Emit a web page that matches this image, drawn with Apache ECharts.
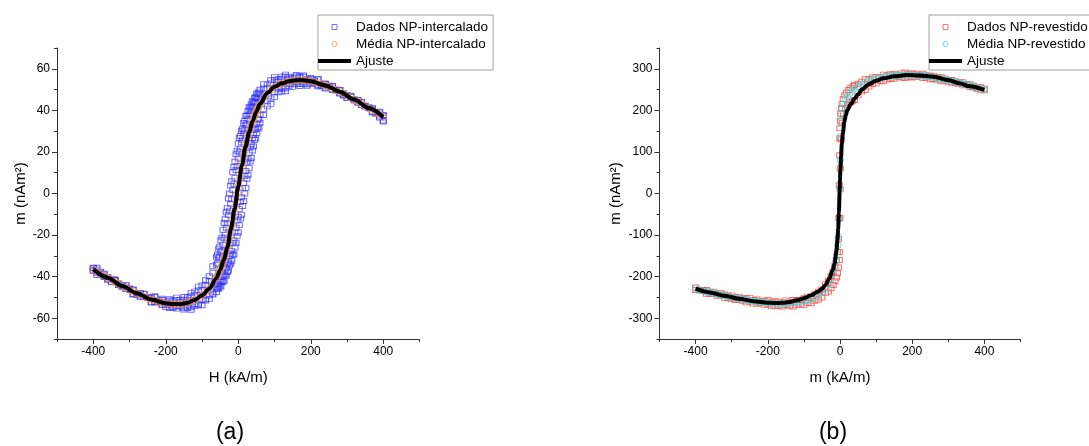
<!DOCTYPE html>
<html>
<head>
<meta charset="utf-8">
<title>Curvas de magnetização</title>
<script src="https://cdn.jsdelivr.net/npm/echarts@6/dist/echarts.min.js"></script>
<style>
  html, body { margin: 0; padding: 0; background: #fff; }
  #chart { width: 1089px; height: 446px; }
</style>
</head>
<body>
<div id="chart"></div>
<script>
// ---------- (a) NP-intercalado ----------
// Campo aplicado H (kA/m), passo fino na região de alta inclinação
const campoA = [
  -400,-390,-380,-370,-360,-350,-340,-330,-320,-310,-300,-290,-280,-270,-260,-250,-240,-230,-220,-210,
  -200,-190,-180,-170,-160,-150,-140,-130,-120,-110,-100,-90,-80,-70,
  -60,-57,-54,-51,-48,-45,-42,-39,-36,-33,-30,-27,-24,-21,-18,-15,-12,-9,-6,-3,
  0,3,6,9,12,15,18,21,24,27,30,33,36,39,42,45,48,51,54,57,60,
  70,80,90,100,110,120,130,140,150,160,170,180,190,200,210,220,230,240,250,260,
  270,280,290,300,310,320,330,340,350,360,370,380,390,400
];
// Varredura 1 – ramo descendente (nAm²)
const descA1 = [
  -36.0,-38.2,-37.6,-39.8,-40.3,-42.5,-41.8,-43.4,-44.9,-44.2,-46.3,-46.4,-48.7,-48.2,-48.4,-50.3,-50.5,-49.8,-51.9,-51.2,
  -52.7,-51.5,-52.4,-51.2,-52.3,-51.1,-51.3,-49.4,-48.9,-46.7,-46.5,-43.9,-42.2,-38.1,
  -34.3,-33.7,-31.1,-30.4,-27.9,-27.4,-24.7,-21.5,-19.8,-16.5,-14.5,-10.3,-8.3,-4.9,-2.8,1.7,4.5,7.4,11.3,13.2,
  16.8,19.9,21.6,24.6,25.9,29.2,30.5,33.0,33.6,35.9,38.0,38.3,39.9,41.5,41.5,43.5,44.1,45.8,45.6,47.1,48.1,
  50.4,50.7,53.0,54.6,53.8,55.0,56.2,55.2,54.7,56.3,55.8,56.2,54.5,55.1,54.1,54.8,52.4,52.7,51.6,51.5,
  49.6,49.7,47.3,47.4,46.7,44.9,45.0,42.5,42.2,41.4,39.3,38.8,37.0,35.1
];
// Varredura 1 – ramo ascendente (nAm²)
const ascA1 = [
  -36.9,-36.7,-38.7,-39.0,-41.4,-41.2,-41.5,-44.1,-44.5,-45.8,-45.7,-48.5,-47.8,-49.6,-49.8,-49.8,-52.4,-52.2,-52.2,-53.4,
  -54.6,-53.5,-55.0,-54.2,-53.8,-55.0,-54.3,-54.7,-53.1,-53.1,-51.3,-51.0,-49.0,-48.1,
  -45.6,-43.8,-43.8,-42.4,-42.5,-40.2,-39.4,-39.0,-36.2,-35.9,-34.0,-33.1,-30.1,-29.0,-27.6,-23.9,-22.6,-18.8,-16.4,-13.0,
  -11.2,-7.5,-4.1,-1.9,2.7,5.1,8.4,10.8,14.9,16.5,19.6,22.5,23.7,26.7,28.1,30.7,31.3,33.4,35.3,35.9,37.7,
  40.6,44.6,45.7,48.7,50.5,50.5,50.6,52.7,52.5,53.8,52.7,53.5,52.5,53.4,53.5,52.1,52.1,50.8,51.8,50.0,
  49.9,48.3,48.2,46.1,46.8,45.3,43.8,43.9,41.9,41.1,40.8,38.8,38.9,37.3
];
// Varredura 2 – ramo descendente (nAm²)
const descA2 = [
  -37.2,-39.2,-38.3,-40.2,-40.3,-42.5,-41.8,-43.3,-44.8,-44.1,-46.2,-46.2,-48.5,-48.0,-48.2,-49.9,-50.1,-49.4,-51.4,-50.6,
  -52.0,-50.8,-51.5,-50.1,-51.2,-49.8,-49.9,-47.8,-47.2,-44.8,-44.3,-41.7,-39.8,-35.0,
  -30.4,-29.5,-26.5,-25.6,-22.5,-21.1,-17.5,-14.2,-12.4,-9.0,-6.9,-2.4,0.0,3.8,5.9,10.2,12.7,15.3,18.9,20.6,
  24.0,26.7,27.7,30.2,31.0,33.9,35.0,37.3,37.6,39.7,41.5,41.4,42.8,44.4,44.2,46.0,46.5,48.1,47.8,49.0,49.9,
  52.6,52.5,54.5,56.0,55.0,56.2,57.2,56.2,55.6,57.0,56.4,56.8,55.0,55.6,54.4,55.1,52.6,52.9,51.8,51.7,
  49.7,49.8,47.3,47.4,46.7,44.9,44.9,42.5,42.1,41.4,39.0,38.4,36.5,34.6
];
// Varredura 2 – ramo ascendente (nAm²)
const ascA2 = [
  -35.7,-35.7,-38.0,-38.6,-41.4,-41.2,-41.5,-44.1,-44.4,-45.8,-45.8,-48.5,-47.9,-49.7,-49.8,-49.9,-52.4,-52.3,-52.4,-53.7,
  -53.5,-55.1,-54.5,-55.4,-54.4,-55.8,-55.1,-55.9,-54.2,-53.8,-53.8,-51.5,-50.8,-48.6,
  -47.4,-45.7,-45.8,-44.6,-44.8,-42.7,-42.3,-42.0,-39.5,-39.5,-37.8,-37.1,-34.5,-33.7,-32.4,-29.6,-29.2,-26.0,-23.7,-20.4,
  -18.8,-15.2,-12.1,-10.3,-6.0,-3.6,0.0,2.7,7.1,9.0,12.2,15.4,17.1,20.7,22.6,25.7,26.6,29.0,31.1,31.9,34.0,
  37.8,41.9,43.1,46.5,48.7,49.0,49.2,51.5,51.3,52.8,51.7,52.6,51.8,52.8,52.9,51.6,51.6,50.5,51.5,49.8,
  49.7,48.1,48.0,46.0,46.7,45.3,43.8,43.9,41.9,41.2,41.0,39.2,39.3,37.8
];
// Média dos ramos (nAm²)
const mediaA = [
  -36.6,-37.4,-38.6,-39.4,-40.6,-41.4,-42.6,-43.4,-44.6,-45.3,-46.4,-47.1,-48.1,-48.7,-49.7,-50.2,-51.1,-51.4,-52.1,-52.3,
  -52.9,-52.9,-53.3,-53.2,-53.3,-52.9,-52.7,-51.9,-51.3,-50.1,-49.1,-47.5,-45.9,-43.4,
  -40.7,-39.4,-38.4,-37.1,-35.9,-34.3,-33.1,-31.3,-29.7,-27.7,-26.1,-23.2,-20.7,-17.8,-15.2,-12.2,-9.5,-6.4,-3.4,0.1,
  3.2,6.6,9.4,12.6,15.2,18.1,20.7,23.4,25.4,27.7,29.4,31.3,32.8,34.6,35.9,37.5,38.6,39.9,40.8,42.1,42.9,
  46.1,48.2,50.1,51.2,52.3,52.9,53.6,53.9,54.4,54.4,54.7,54.4,54.4,53.9,53.7,53.1,52.7,51.9,51.4,50.5,
  49.9,48.9,48.2,47.1,46.3,45.1,44.3,43.1,42.2,41.0,40.1,38.9,38.0,36.7
];
// Curva ajustada
const ajusteHA = [-400,-360,-320,-280,-240,-200,-180,-160,-140,-120,-100,-80,-60,-50,-40,-30,-20,-10,0,10,20,30,40,50,60,80,100,120,140,160,180,200,240,280,320,360,400];
const ajusteMA = [-36.5,-40.5,-44.5,-48,-51,-52.8,-53.2,-53.2,-52.6,-51.2,-49,-45.8,-40.6,-36.8,-32,-26,-17,-7.5,3.3,13.5,22.5,29.5,35,39.5,43,48.3,51.3,53,54,54.5,54.5,54,52,49,45.2,41.1,36.8];

// ---------- (b) NP-revestido ----------
const campoNegB = [-400,-390,-380,-370,-360,-350,-340,-330,-320,-310,-300,-290,-280,-270,-260,-250,-240,-230,-220,-210,-200,-190,-180,-170,-160,-150,-140,-130,-120,-110,-100,-90,-80,-70,-60,-50,-40];
const campoPosB = [40,50,60,70,80,90,100,110,120,130,140,150,160,170,180,190,200,210,220,230,240,250,260,270,280,290,300,310,320,330,340,350,360,370,380,390,400];

const descNegB = [-226,-232,-232,-232,-236,-236,-241,-239,-243,-246,-245,-249,-248,-252,-252,-251,-256,-255,-259,-258,-256,-260,-259,-260,-262,-257,-260,-256,-256,-256,-252,-248,-248,-242,-236,-231,-218];
const descIntHB = [-32,-25,-19,-14,-10,-7,-4.5,-3,-2,-1,-0.5,0,1,2,4,6,9,13,18,24,30,36];
const descIntMB = [-209,-199,-189,-175,-160,-141,-110,-59,20,92,133,157,175,192,205,215,227,236,243,249,254,258];
const descPosB = [261,264,269,275,275,279,280,280,286,284,287,287,286,289,291,288,289,288,285,288,284,284,283,279,280,277,273,273,270,267,268,263,263,259,255,256,252];

const ascNegB = [-232,-233,-234,-241,-241,-242,-246,-245,-251,-252,-253,-256,-255,-258,-262,-260,-265,-265,-264,-268,-267,-271,-271,-270,-272,-268,-270,-272,-268,-267,-268,-263,-264,-258,-255,-250,-239];
const ascIntHB = [-32,-25,-19,-14,-10,-7,-4,-2,-1,-0.5,0.5,1,3,6,10,15,21,28,34];
const ascIntMB = [-236,-228,-220,-211,-202,-192,-178,-160,-141,-59,10,60,130,170,192,205,213,219,222];
const ascPosB = [225,236,245,249,257,263,265,271,270,274,276,276,281,279,278,281,279,280,282,278,279,275,275,274,270,272,268,265,266,263,260,261,256,255,252,248,248];

const mediaNegB = [-229,-232,-234,-236,-238,-240,-242,-244,-246,-248,-250,-251,-253,-254,-256,-257,-259,-260,-261,-262,-263,-264,-265,-265,-265,-264,-264,-263,-262,-260,-259,-257,-254,-250,-245,-238,-229];
const mediaIntHB = [-32,-26,-20,-15,-11,-8,-6,-4,-2,0,1,1.5,2,4,6,10,15,20,27,33];
const mediaIntMB = [-218,-208,-194,-178,-163,-148,-125,-105,-62,12,80,137,172,190,205,215,226,233,241,247];
const mediaPosB = [252,257,262,267,271,273,276,278,280,281,282,283,284,284,285,285,285,284,284,283,282,281,279,277,275,274,272,270,268,266,264,262,260,257,255,253,250];

const ajusteHB = [-400,-360,-320,-280,-240,-200,-180,-160,-140,-120,-100,-80,-60,-50,-40,-30,-20,-15,-10,-7,-5,-3,-1,0,1,3,5,8,12,16,20,30,40,50,60,80,100,120,150,185,220,260,300,330,360,400];
const ajusteMB = [-229,-238,-246,-253,-259,-262.5,-263.5,-263,-261,-257,-252,-245,-236,-229,-220,-205,-184,-168,-140,-112,-85,-45,5,35,55,90,120,145,172,188,200,215,228,238,250,263,271,277,282,285,284,281,273,265,258,249];

// Marcas dos eixos
const ticksX = [-400, -200, 0, 200, 400];
const minorX = [-500, -300, -100, 100, 300, 500];
const ticksYA = [-60, -40, -20, 0, 20, 40, 60];
const minorYA = [-70, -50, -30, -10, 10, 30, 50, 70];
const ticksYB = [-300, -200, -100, 0, 100, 200, 300];
const minorYB = [-350, -250, -150, -50, 50, 150, 250, 350];

// ---------- helpers ----------
const pares = (hs, ms) => hs.map((h, i) => [h, ms[i]]);
const FONT = '"Liberation Sans", Arial, Helvetica, sans-serif';
const AXIS_COLOR = '#333';

function eixoPrincipal(grid, min, max, interval, ticks, name, nameGap, isX) {
  return {
    type: 'value', gridIndex: grid, min: min, max: max, interval: interval,
    position: isX ? 'bottom' : 'left',
    name: name, nameLocation: 'middle', nameGap: nameGap,
    nameTextStyle: { fontSize: 15, color: '#000', fontFamily: FONT },
    axisLine: { show: true, onZero: false, lineStyle: { color: AXIS_COLOR, width: 1 } },
    axisTick: { show: true, inside: false, length: 5, customValues: ticks, lineStyle: { color: AXIS_COLOR, width: 1 } },
    axisLabel: { show: true, customValues: ticks, fontSize: 12, color: '#000', fontFamily: FONT, margin: 7 },
    splitLine: { show: false }
  };
}
function eixoSecundario(grid, min, max, interval, ticks, isX) {
  return {
    type: 'value', gridIndex: grid, min: min, max: max, interval: interval,
    position: isX ? 'bottom' : 'left',
    axisLine: { show: false, onZero: false },
    axisTick: { show: true, inside: false, length: 3, customValues: ticks, lineStyle: { color: AXIS_COLOR, width: 1 } },
    axisLabel: { show: false },
    splitLine: { show: false }
  };
}
const ICONE_QUADRADO = 'path://M0,0H5V5H0Z';
const ICONE_LINHA = 'path://M0,0H34V4H0Z';
function legenda(left, dados, media) {
  return {
    orient: 'vertical', left: left, top: 15,
    itemWidth: 33, itemHeight: 5, itemGap: 3,
    padding: [5, 5, 2, 0],
    borderColor: '#a0a0a0', borderWidth: 1, backgroundColor: '#fff',
    textStyle: { fontSize: 13.5, color: '#000', fontFamily: FONT },
    itemStyle: { borderWidth: 'inherit' },
    selectedMode: false,
    data: [
      { name: dados, icon: ICONE_QUADRADO },
      { name: media, icon: 'circle' },
      { name: 'Ajuste', icon: ICONE_LINHA, itemStyle: { color: '#000', borderWidth: 0 } }
    ]
  };
}

const AZUL = 'rgba(45,45,255,0.85)';
const LARANJA = '#f5983a';
const VERMELHO = 'rgba(255,45,45,0.85)';
const CIANO = 'rgb(45,225,225)';

const option = {
  animation: false,
  textStyle: { fontFamily: FONT },
  grid: [
    { left: 57, top: 48, width: 362.5, height: 291 },
    { left: 659.5, top: 48, width: 361, height: 291 }
  ],
  xAxis: [
    eixoPrincipal(0, -500, 500, 100, ticksX, 'H (kA/m)', 31, true),
    eixoSecundario(0, -500, 500, 100, minorX, true),
    eixoPrincipal(1, -500, 500, 100, ticksX, 'm (kA/m)', 31, true),
    eixoSecundario(1, -500, 500, 100, minorX, true)
  ],
  yAxis: [
    eixoPrincipal(0, -70, 70, 10, ticksYA, 'm (nAm²)', 26, false),
    eixoSecundario(0, -70, 70, 10, minorYA, false),
    eixoPrincipal(1, -350, 350, 50, ticksYB, 'm (nAm²)', 36, false),
    eixoSecundario(1, -350, 350, 50, minorYB, false)
  ],
  legend: [
    legenda(318, 'Dados NP-intercalado', 'Média NP-intercalado'),
    legenda(929, 'Dados NP-revestido', 'Média NP-revestido')
  ],
  graphic: [
    { type: 'text', x: 230, y: 433, style: { text: '(a)', fill: '#000', font: '23px ' + FONT, textAlign: 'center', textVerticalAlign: 'middle' } },
    { type: 'text', x: 833, y: 433, style: { text: '(b)', fill: '#000', font: '23px ' + FONT, textAlign: 'center', textVerticalAlign: 'middle' } }
  ],
  series: [
    {
      name: 'Dados NP-intercalado', type: 'scatter', xAxisIndex: 0, yAxisIndex: 0,
      symbol: 'rect', symbolSize: [6, 5],
      itemStyle: { color: 'rgba(0,0,0,0)', borderColor: AZUL, borderWidth: 1 },
      data: pares(campoA, descA1).concat(pares(campoA, ascA1), pares(campoA, descA2), pares(campoA, ascA2)),
      z: 2
    },
    {
      name: 'Média NP-intercalado', type: 'scatter', xAxisIndex: 0, yAxisIndex: 0,
      symbol: 'circle', symbolSize: 7,
      itemStyle: { color: 'rgba(0,0,0,0)', borderColor: LARANJA, borderWidth: 1 },
      data: pares(campoA, mediaA), z: 3
    },
    {
      name: 'Ajuste', type: 'line', xAxisIndex: 0, yAxisIndex: 0,
      symbol: 'none', smooth: 0.3, smoothMonotone: 'x',
      lineStyle: { color: '#000', width: 4 }, itemStyle: { color: '#000' },
      data: pares(ajusteHA, ajusteMA), z: 4
    },
    {
      name: 'Dados NP-revestido', type: 'scatter', xAxisIndex: 2, yAxisIndex: 2,
      symbol: 'rect', symbolSize: [6, 5],
      itemStyle: { color: 'rgba(0,0,0,0)', borderColor: VERMELHO, borderWidth: 1 },
      data: pares(campoNegB, descNegB).concat(pares(descIntHB, descIntMB), pares(campoPosB, descPosB),
            pares(campoNegB, ascNegB), pares(ascIntHB, ascIntMB), pares(campoPosB, ascPosB)),
      z: 2
    },
    {
      name: 'Média NP-revestido', type: 'scatter', xAxisIndex: 2, yAxisIndex: 2,
      symbol: 'circle', symbolSize: 6.5,
      itemStyle: { color: 'rgba(0,0,0,0)', borderColor: CIANO, borderWidth: 1 },
      data: pares(campoNegB, mediaNegB).concat(pares(mediaIntHB, mediaIntMB), pares(campoPosB, mediaPosB)),
      z: 3
    },
    {
      name: 'Ajuste', type: 'line', xAxisIndex: 2, yAxisIndex: 2,
      symbol: 'none', smooth: 0.3, smoothMonotone: 'x',
      lineStyle: { color: '#000', width: 4 }, itemStyle: { color: '#000' },
      data: pares(ajusteHB, ajusteMB), z: 4
    }
  ]
};

const chart = echarts.init(document.getElementById('chart'), null, { renderer: 'canvas' });
chart.setOption(option);
</script>
</body>
</html>
